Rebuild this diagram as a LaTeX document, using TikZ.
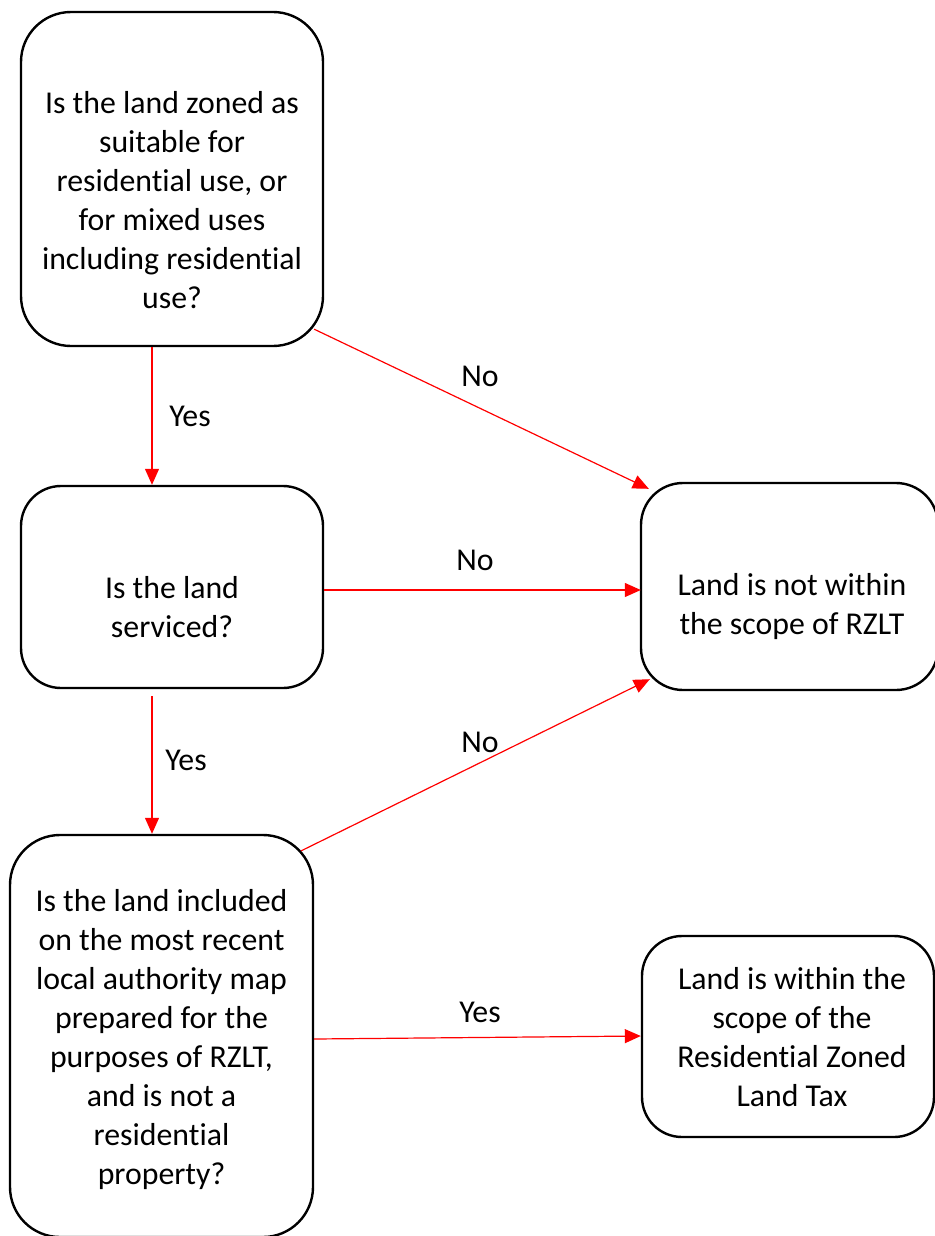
\documentclass[tikz,border=0pt]{standalone}
\usepackage{fontspec}
\setmainfont{Carlito}[RawFeature={-liga;-clig;-dlig;-calt}]
\usetikzlibrary{arrows.meta,calc}
\begin{document}
\begin{tikzpicture}[x=1pt,y=-1pt,
  box/.style={draw=black,line width=2.4pt,fill=none,rounded corners=#1,inner sep=0pt},
  box/.default=40pt,
  lbl/.style={align=center,font=\fontsize{31.8}{39}\selectfont,inner sep=0pt},
  edgelbl/.style={font=\fontsize{31.8}{39}\selectfont,inner sep=0pt},
  arr/.style={draw=red,line width=1.2pt,-{Triangle[length=16pt,width=14pt]}}]
\useasboundingbox (0,0) rectangle (934,1236);
\fill[white] (0,0) rectangle (934,1236);
% boxes
\node[box=50pt,minimum width=302pt,minimum height=334pt] (b1) at (172,179) {};
\node[box=40pt,minimum width=302pt,minimum height=202pt] (b2) at (172,587) {};
\node[box=50pt,minimum width=303pt,minimum height=402pt] (b3) at (161.5,1036) {};
\node[box=42pt,minimum width=297pt,minimum height=207pt] (b4) at (789.5,586.5) {};
\node[box=40pt,minimum width=292pt,minimum height=201pt] (b5) at (788,1036.5) {};
% texts
\node[lbl] (t1) at (172,200) {Is the land zoned as\\suitable for\\residential use, or\\for mixed uses\\including residential\\use?};
\node[lbl] (t2) at (172,607) {Is the land\\serviced?};
\node[lbl] (t3) at (161.5,1040) {Is the land included\\on the most recent\\local authority map\\prepared for the\\purposes of RZLT,\\and is not a\\residential\\property?};
\node[lbl] (t4) at (792,607) {Land is not within\\the scope of RZLT};
\node[lbl] (t5) at (792,1037) {Land is within the\\scope of the\\Residential Zoned\\Land Tax};
% connectors
\coordinate (s2) at ($(b2.south)+(-20,7)$);
\draw[arr] ([xshift=-20pt]b1.south) -- ([xshift=-20pt]b2.north);
\draw[arr] ($(b1.south east)+(-10,-18)$) -- ($(b4.north west)+(9,7)$);
\draw[arr] ($(b2.east)+(0,3)$) -- ($(b4.west)+(1,3.5)$);
\draw[arr] (s2) -- (s2 |- b3.north);
\draw[arr] ($(b3.north east)+(-13,17)$) -- ($(b4.south west)+(10,-12)$);
\draw[arr] ($(b3.east)+(0,3)$) -- ($(b5.west)+(0,-0.5)$);
% edge labels
\node[edgelbl] (y1) at (190,416) {Yes};
\node[edgelbl] (n1) at (480,376) {No};
\node[edgelbl] (n2) at (475,560) {No};
\node[edgelbl] (y2) at (186,760) {Yes};
\node[edgelbl] (n3) at (480,742) {No};
\node[edgelbl] (y3) at (480,1012) {Yes};
\end{tikzpicture}
\end{document}
